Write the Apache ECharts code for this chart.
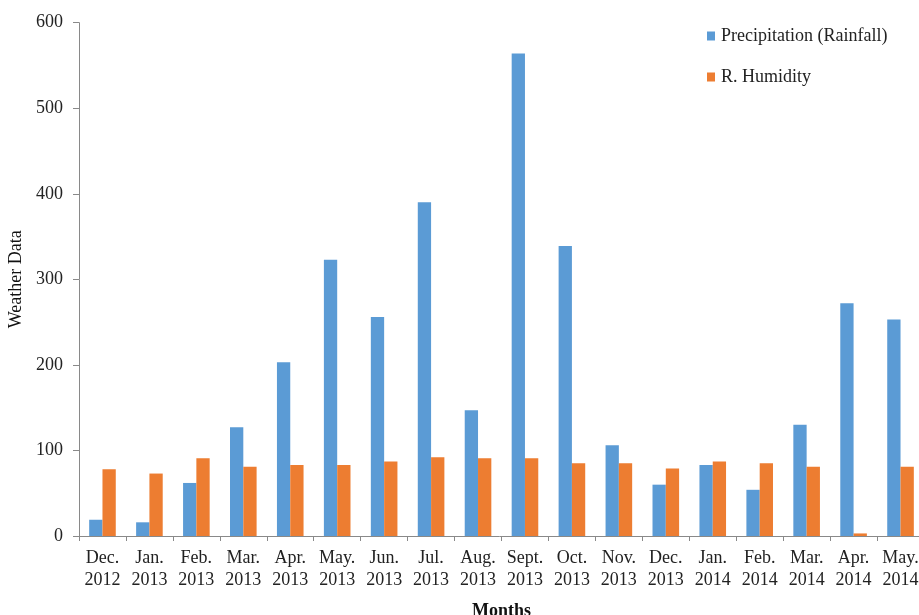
<!DOCTYPE html>
<html>
<head>
<meta charset="utf-8">
<script src="https://cdn.jsdelivr.net/npm/echarts@6/dist/echarts.min.js"></script>
<style>html,body{margin:0;padding:0;background:#fff}#c{width:919px;height:615px}</style>
</head>
<body>
<div id="c"></div>
<script>
var categories = ['Dec.\n2012','Jan.\n2013','Feb.\n2013','Mar.\n2013','Apr.\n2013','May.\n2013','Jun.\n2013','Jul.\n2013','Aug.\n2013','Sept.\n2013','Oct.\n2013','Nov.\n2013','Dec.\n2013','Jan.\n2014','Feb.\n2014','Mar.\n2014','Apr.\n2014','May.\n2014'];
var precipitation = [19, 16, 62, 127, 203, 323, 256, 390, 147, 564, 339, 106, 60, 83, 54, 130, 272, 253];
var humidity = [78, 73, 91, 81, 83, 83, 87, 92, 91, 91, 85, 85, 79, 87, 85, 81, 3, 81];
var seriesNames = ['Precipitation (Rainfall)', 'R. Humidity'];
var yTicks = {min: 0, max: 600, interval: 100};

var font = 'Liberation Serif';
var axisColor = '#898989';
var chart = echarts.init(document.getElementById('c'));
chart.setOption({
  backgroundColor: '#ffffff',
  animation: false,
  textStyle: {fontFamily: font},
  legend: {
    orient: 'vertical',
    left: 707,
    top: 27,
    padding: 0,
    itemWidth: 8,
    itemHeight: 9,
    itemGap: 23,
    icon: 'rect',
    textStyle: {fontFamily: font, fontSize: 18, color: '#222', padding: [0,0,0,1]},
    data: seriesNames
  },
  grid: {left: 79, right: -5, top: 22.7, bottom: 79, containLabel: false, outerBoundsMode: 'none'},
  xAxis: {
    type: 'category',
    data: categories,
    name: 'Months',
    nameLocation: 'middle',
    nameGap: 66,
    nameTextStyle: {fontFamily: font, fontSize: 18, fontWeight: 'bold', color: '#111'},
    axisLine: {lineStyle: {color: axisColor, width: 1}},
    axisTick: {show: true, length: 5, lineStyle: {color: axisColor}},
    axisLabel: {fontFamily: font, fontSize: 18, color: '#222', margin: 11, lineHeight: 22, interval: 0}
  },
  yAxis: {
    type: 'value',
    min: yTicks.min, max: yTicks.max, interval: yTicks.interval,
    name: 'Weather Data',
    nameLocation: 'middle',
    nameGap: 47,
    nameRotate: 90,
    nameTextStyle: {fontFamily: font, fontSize: 18, color: '#111'},
    axisLine: {show: true, lineStyle: {color: axisColor, width: 1}},
    axisTick: {show: true, length: 6, lineStyle: {color: axisColor}},
    splitLine: {show: false},
    axisLabel: {fontFamily: font, fontSize: 18, color: '#222', margin: 16}
  },
  series: [
    {name: seriesNames[0], type: 'bar', data: precipitation, barWidth: 13.3, barGap: '0%',
     itemStyle: {color: '#5b9bd5'}},
    {name: seriesNames[1], type: 'bar', data: humidity, barWidth: 13.3, barGap: '0%',
     itemStyle: {color: '#ed7d31'}}
  ]
});
</script>
</body>
</html>
